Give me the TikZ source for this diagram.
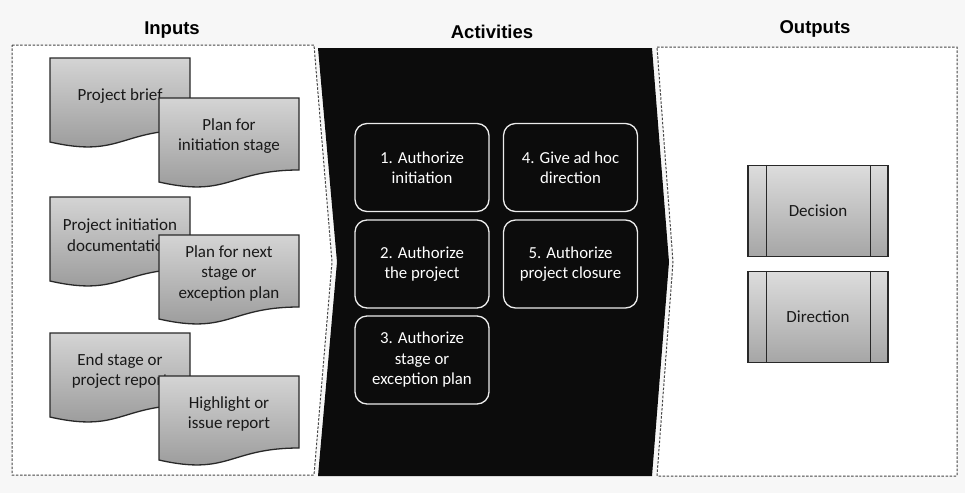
\documentclass[tikz,border=0pt]{standalone}
\usepackage{fontspec}
\setmainfont{Carlito}
\newfontfamily\titlefont{Liberation Sans}
\usetikzlibrary{calc}
\definecolor{bgc}{RGB}{247,247,247}
\definecolor{docTop}{RGB}{212,212,212}
\definecolor{docBot}{RGB}{150,150,150}
\definecolor{edgec}{RGB}{40,40,40}
\definecolor{dashc}{RGB}{70,70,70}
\definecolor{blk}{RGB}{12,12,12}
\tikzset{
  titletext/.style={font=\titlefont\bfseries\fontsize{18.5}{20}\selectfont, text=black},
  dashbox/.style={draw=dashc, dash pattern=on 2.5pt off 1.6pt, line width=1pt, fill=white},
  docfill/.style={draw=edgec, line width=1.3pt, top color=docTop, bottom color=docBot},
  doctext/.style={font=\fontsize{17}{20.5}\selectfont, text=black!90, align=center},
  actbox/.style={draw=white!85!gray, line width=1.3pt, fill=blk, rounded corners=12pt,
     minimum width=134pt, minimum height=88pt, text=white, align=center,
     font=\fontsize{16.8}{20.5}\selectfont},
  outbox/.style={draw=edgec, line width=1.3pt, top color=docTop!80!white, bottom color=docBot!85!white,
     minimum width=140pt, minimum height=91pt, text=black!90, font=\fontsize{17}{20}\selectfont},
}
\newcommand\inputdoc[4]{%
  \path[docfill] (#1,#2) -- ({#1+140},#2) -- ({#1+140},{#2+72})
     .. controls ({#1+70},{#2+72}) and ({#1+70},{#2+100}) .. (#1,{#2+84}) -- cycle;
  \node[doctext] (#3) at ({#1+70},{#2+38}) {#4};
}
\begin{document}
\begin{tikzpicture}[x=1pt,y=-1pt]
\useasboundingbox (0,0) rectangle (965,493);
\fill[bgc] (0,0) rectangle (965,493);

% titles
\node[titletext] (tin) at (172,30) {Inputs};
\node[titletext] (tact) at (492,32) {Activities};
\node[titletext] (tout) at (815,29) {Outputs};

% section frames
\path[dashbox] (12,45) -- (314,45) -- (332,262) -- (314,475) -- (12,475) -- cycle;
\path[dashbox] (657,47) -- (957,47) -- (957,476) -- (657,476) -- (673,262) -- cycle;
\fill[blk] (318,48) -- (652,48) -- (669,262) -- (652,476) -- (318,476) -- (337,262) -- cycle;

% input documents
\inputdoc{50}{58}{d1}{Project brief}
\inputdoc{159}{98}{d2}{Plan for\\initiation stage}
\inputdoc{50}{197}{d3}{Project initiation\\documentation}
\inputdoc{159}{235}{d4}{Plan for next\\stage or\\exception plan}
\inputdoc{50}{333}{d5}{End stage or\\project report}
\inputdoc{159}{376}{d6}{Highlight or\\issue report}

% activities
\node[actbox] (a1) at (422,167.5) {1. Authorize\\initiation};
\node[actbox] (a4) at (570.5,167.5) {4. Give ad hoc\\direction};
\node[actbox] (a2) at (422,264) {2. Authorize\\the project};
\node[actbox] (a5) at (570.5,264) {5. Authorize\\project closure};
\node[actbox] (a3) at (422,360) {3. Authorize\\stage or\\exception plan};

% outputs
\node[outbox] (o1) at (818,211) {Decision};
\node[outbox] (o2) at (818,317) {Direction};
\foreach \o in {o1,o2}{
  \draw[edgec, line width=1.3pt] ([xshift=19pt]\o.north west) -- ([xshift=19pt]\o.south west);
  \draw[edgec, line width=1.3pt] ([xshift=-18pt]\o.north east) -- ([xshift=-18pt]\o.south east);
}
\end{tikzpicture}
\end{document}
